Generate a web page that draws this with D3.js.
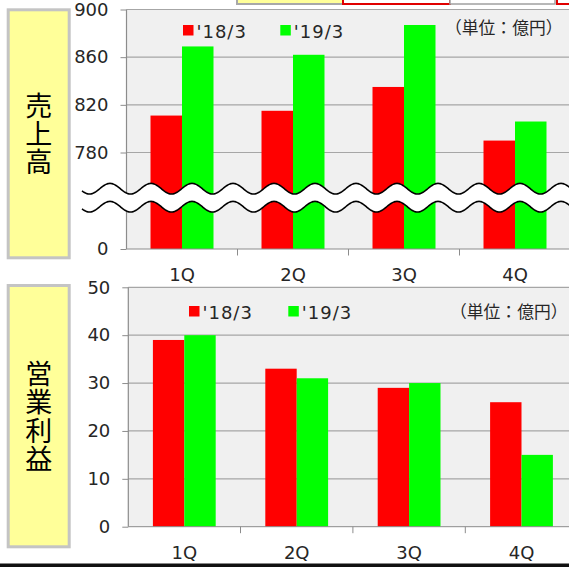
<!DOCTYPE html>
<html>
<head>
<meta charset="utf-8">
<script src="https://cdn.jsdelivr.net/npm/d3@7"></script>
<style>
  body { margin: 0; background: #fff; }
  svg { display: block; }
</style>
</head>
<body>
<svg id="chart" width="569" height="567"></svg>
<script>
// Quarterly sales and operating profit, previous vs current fiscal year
const quarters = ["1Q", "2Q", "3Q", "4Q"];
const seriesNames = ["'18/3", "'19/3"];
const salesPrev = [811, 815, 835, 790];
const salesCurr = [869, 862, 887, 806];
const profitPrev = [39, 33, 29, 26];
const profitCurr = [40, 31, 30, 15];
const salesTicks = [780, 820, 860, 900];
const salesBaseTicks = [0];
const profitTicks = [0, 10, 20, 30, 40, 50];
const unitLabel = "（単位：億円）";
const salesTitle = "売上高";
const profitTitle = "営業利益";

const seriesColors = ["#ff0000", "#00ff00"];
const latin = "'DejaVu Sans', Verdana, sans-serif";
const cjk = "'Noto Sans CJK JP', sans-serif";
const axisColor = "#8c8c8c";
const gridColor = "#a6a6a6";
const textColor = "#262626";
const W = 569, H = 567;

const svg = d3.select("#chart");

// header tabs cut off at the top edge
const tabs = [
  { x: 237, w: 106, fill: "#ffff99", stroke: "#a8a8a8", sw: 2 },
  { x: 343, w: 107, fill: "#ffffff", stroke: "#e00000", sw: 2 },
  { x: 450, w: 105, fill: "#ffffff", stroke: "#a0a0a0", sw: 1.5 },
  { x: 557, w: 40, fill: "#ffffff", stroke: "#e00000", sw: 2 }
];
svg.selectAll("rect.tab").data(tabs).join("rect")
  .attr("class", "tab")
  .attr("x", d => d.x).attr("y", -10).attr("width", d => d.w).attr("height", 14)
  .attr("fill", d => d.fill).attr("stroke", d => d.stroke).attr("stroke-width", d => d.sw);

// yellow title boxes with vertical labels
function titleBox(y0, y1, label, centerY, spacing) {
  svg.append("rect")
    .attr("x", 8.2).attr("y", y0).attr("width", 61).attr("height", y1 - y0)
    .attr("fill", "#ffff99").attr("stroke", "#c4c4c4").attr("stroke-width", 3);
  svg.append("text")
    .attr("x", 38.8)
    .attr("y", centerY + spacing / 2)
    .attr("text-anchor", "middle")
    .style("writing-mode", "vertical-rl")
    .attr("letter-spacing", spacing)
    .attr("font-family", cjk).attr("font-size", 27).attr("fill", "#000")
    .text(label);
}
titleBox(9.8, 257.8, salesTitle, 133.3, 1);
titleBox(285.5, 546.8, profitTitle, 416.3, 1.5);

function legend(y, x1, x2) {
  const items = seriesNames.map((s, i) => ({ name: s, color: seriesColors[i], x: i === 0 ? x1 : x2 }));
  const g = svg.append("g");
  g.selectAll("rect").data(items).join("rect")
    .attr("x", d => d.x).attr("y", y).attr("width", 10.5).attr("height", 10.5)
    .attr("fill", d => d.color);
  g.selectAll("text").data(items).join("text")
    .attr("x", d => d.x + 13.5).attr("y", y + 12.7)
    .attr("font-family", latin).attr("font-size", 18).attr("letter-spacing", 1)
    .attr("fill", textColor)
    .text(d => d.name);
}

function leftAxis(scale, ticks, x) {
  const ax = d3.axisLeft(scale).tickValues(ticks).tickSize(6).tickPadding(12).tickSizeOuter(0);
  const a = svg.append("g").attr("transform", `translate(${x},0)`).call(ax);
  a.select(".domain").remove();
  a.selectAll(".tick line").attr("stroke", axisColor);
  a.selectAll(".tick text")
    .attr("font-family", latin).attr("font-size", 18).attr("fill", textColor);
}

function bottomAxis(xBand, y, pad) {
  const ax = d3.axisBottom(xBand).tickSize(0).tickPadding(pad);
  const a = svg.append("g").attr("transform", `translate(0,${y})`).call(ax);
  a.select(".domain").remove();
  a.selectAll(".tick text")
    .attr("font-family", latin).attr("font-size", 18).attr("fill", textColor);
  // separators between quarters
  svg.append("g").selectAll("line").data(quarters.slice(1)).join("line")
    .attr("x1", d => xBand(d)).attr("x2", d => xBand(d))
    .attr("y1", y).attr("y2", y + 6.5)
    .attr("stroke", axisColor).attr("stroke-width", 1);
}

function bars(xBand, xSeries, yTop, baseY, prev, curr) {
  const rows = quarters.map((q, i) => [
    { q, s: seriesNames[0], v: prev[i], c: seriesColors[0] },
    { q, s: seriesNames[1], v: curr[i], c: seriesColors[1] }
  ]).flat();
  svg.append("g").selectAll("rect").data(rows).join("rect")
    .attr("x", d => xBand(d.q) + xSeries(d.s))
    .attr("width", xSeries.bandwidth())
    .attr("y", d => yTop(d.v))
    .attr("height", d => baseY - yTop(d.v))
    .attr("fill", d => d.c);
}

function unitText(x, y) {
  svg.append("text")
    .attr("x", x).attr("y", y)
    .attr("font-family", cjk).attr("font-size", 16.8).attr("fill", textColor)
    .text(unitLabel);
}

// ---------- Sales (broken axis) ----------
{
  const left = 126.5, top = 9.5, base = 249;
  const x = d3.scaleBand().domain(quarters).range([left, 570.5]);
  const xs = d3.scaleBand().domain(seriesNames).range([0, x.bandwidth()]).paddingOuter(0.762);
  const yUp = d3.scaleLinear().domain([780, 900]).range([152.5, top]);
  const yLow = d3.scaleLinear().domain([0, 30]).range([base, 213]);

  svg.append("rect").attr("x", left).attr("y", top).attr("width", W - left).attr("height", base - top)
    .attr("fill", "#f0f0f0");
  svg.append("g").selectAll("line").data(salesTicks).join("line")
    .attr("x1", left).attr("x2", W).attr("y1", d => yUp(d)).attr("y2", d => yUp(d))
    .attr("stroke", gridColor).attr("stroke-width", 1.2);

  bars(x, xs, yUp, yLow(0), salesPrev, salesCurr);

  svg.append("line").attr("x1", left).attr("x2", left).attr("y1", top).attr("y2", base)
    .attr("stroke", axisColor).attr("stroke-width", 1.2);
  svg.append("line").attr("x1", left).attr("x2", W).attr("y1", base).attr("y2", base)
    .attr("stroke", axisColor).attr("stroke-width", 1);
  leftAxis(yUp, salesTicks, left);
  leftAxis(yLow, salesBaseTicks, left);
  bottomAxis(x, base, 19.3);

  // axis break: white band between two wavy lines
  const xsWave = d3.range(82, W + 2, 1);
  const waveAt = (px, c) => c - 5.3 * Math.cos(2 * Math.PI * (px - 110) / 41);
  const upper = xsWave.map(px => [px, waveAt(px, 188.7)]);
  const lower = xsWave.map(px => [px, waveAt(px, 206.7)]);
  const line = d3.line();
  svg.append("path").attr("d", line(upper.concat(lower.slice().reverse())) + "Z")
    .attr("fill", "#fff");
  [upper, lower].forEach(pts => {
    svg.append("path").attr("d", line(pts))
      .attr("fill", "none").attr("stroke", "#000").attr("stroke-width", 1.6);
  });

  legend(25, 183, 280.3);
  unitText(445, 33.5);
}

// ---------- Operating profit ----------
{
  const left = 128.3, top = 287.3, base = 526.7;
  const x = d3.scaleBand().domain(quarters).range([128.1, 577.7]);
  const xs = d3.scaleBand().domain(seriesNames).range([0, x.bandwidth()]).paddingOuter(0.79);
  const y = d3.scaleLinear().domain([0, 50]).range([base, top]);

  svg.append("rect").attr("x", left).attr("y", top).attr("width", W - left).attr("height", base - top)
    .attr("fill", "#f0f0f0");
  svg.append("g").selectAll("line").data(profitTicks.filter(t => t > 0)).join("line")
    .attr("x1", left).attr("x2", W).attr("y1", d => y(d)).attr("y2", d => y(d))
    .attr("stroke", gridColor).attr("stroke-width", 1.2);

  bars(x, xs, y, y(0), profitPrev, profitCurr);

  svg.append("line").attr("x1", left).attr("x2", left).attr("y1", top).attr("y2", base)
    .attr("stroke", axisColor).attr("stroke-width", 1.2);
  svg.append("line").attr("x1", left).attr("x2", W).attr("y1", base).attr("y2", base)
    .attr("stroke", axisColor).attr("stroke-width", 1);
  leftAxis(y, profitTicks, left);
  bottomAxis(x, base, 20);

  legend(306, 189, 288.3);
  unitText(450, 318);
}

// frame line along the bottom edge
svg.append("rect").attr("x", 0).attr("y", 563.5).attr("width", W).attr("height", 4).attr("fill", "#111");
</script>
</body>
</html>
